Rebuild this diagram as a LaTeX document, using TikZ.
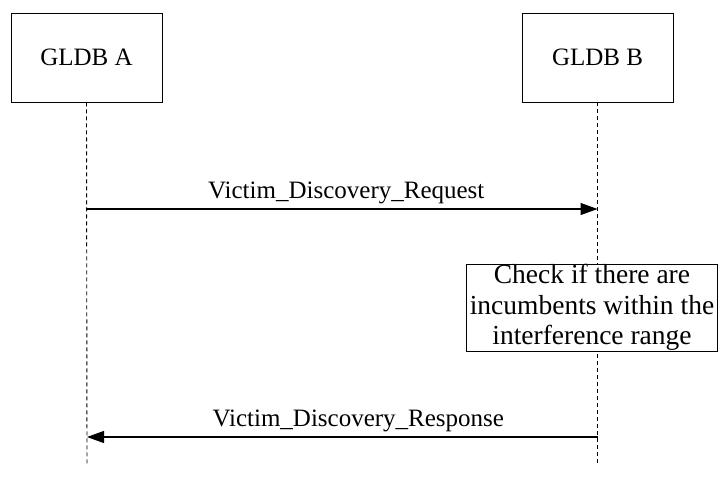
\documentclass[tikz,border=0pt]{standalone}
\usepackage{fontspec}
\setmainfont{Liberation Serif}
\usetikzlibrary{arrows.meta,positioning}

\tikzset{
  entity/.style={draw, line width=0.8pt, minimum width=151pt, minimum height=89pt, inner sep=0pt},
  lifeline/.style={dashed, dash pattern=on 4pt off 3pt, line width=0.9pt},
  msg/.style={line width=1.1pt, -{Triangle[length=17pt,width=12pt]}},
  note/.style={draw, line width=0.8pt, fill=white, minimum width=251pt, minimum height=87pt, align=center, inner sep=0pt,
    font=\fontsize{27.5}{30.5}\selectfont}
}

\begin{document}
\begin{tikzpicture}[x=1pt, y=-1pt, font=\fontsize{25}{30}\selectfont]
 \useasboundingbox (0,0) rectangle (720,491);
 % entities
 \node[entity] (gldbA) at (86.5, 57.5) {GLDB A};
 \node[entity] (gldbB) at (597.5, 57.5) {GLDB B};
 % lifelines
 \coordinate (endA) at (87, 464);
 \coordinate (endB) at (597.5, 464);
 \draw[lifeline] (gldbA.south) -- (endA);
 \draw[lifeline] (gldbB.south) -- (endB);
 % messages
 \coordinate (reqA) at (87, 209);
 \coordinate (reqB) at (597.5, 209);
 \coordinate (resA) at (87, 437);
 \coordinate (resB) at (597.5, 437);
 \draw[msg] (reqA) -- (reqB) node[midway, above=1pt, xshift=4pt] (reqlabel) {Victim\_Discovery\_Request};
 % note on GLDB B
 \node[note] (check) at (592, 307.5) {Check if there are\\incumbents within the\\interference range};
 \draw[msg] (resB) -- (resA) node[midway, above=1pt, xshift=16pt] (reslabel) {Victim\_Discovery\_Response};
\end{tikzpicture}
\end{document}
